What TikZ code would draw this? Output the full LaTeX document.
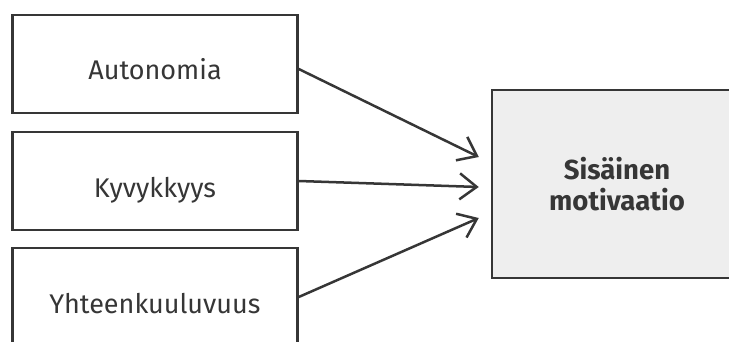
\documentclass[tikz,border=0pt]{standalone}
\usepackage{fontspec}
\setmainfont{Fira Sans}
\usetikzlibrary{arrows.meta,calc}
\definecolor{ink}{HTML}{363636}
\definecolor{boxfill}{HTML}{EEEEEE}
\tikzset{
  factor/.style={draw=ink, line width=2.5pt, minimum width=285pt, minimum height=98pt,
    inner sep=0pt, text height=33pt, text depth=1pt, font=\fontsize{27}{30}\selectfont, text=ink},
  result/.style={draw=ink, line width=2.5pt, fill=boxfill, minimum width=250pt, minimum height=188pt,
    inner sep=0pt, align=center, font=\fontsize{27.5}{31}\selectfont\bfseries, text=ink},
  link/.style={draw=ink, line width=2.5pt, -{Straight Barb[length=17pt,width=26pt,line width=2.5pt]}}
}
\begin{document}
\begin{tikzpicture}[x=1pt,y=-1pt]
\useasboundingbox (0,0) rectangle (729,342);
\clip (0,0) rectangle (729,342);
\node[factor] (a) at (155,64) {Autonomia};
\node[factor] (k) at (155,181) {Kyvykkyys};
\node[factor] (y) at (155,297) {Yhteenkuuluvuus};
\node[result] (m) at (617,184) {Sisäinen\\motivaatio};
\coordinate (ta) at ($(m.west)+(-12,-27)$);
\coordinate (tk) at ($(m.west)+(-12,3)$);
\coordinate (ty) at ($(m.west)+(-12,34)$);
\draw[link] ($(a.east)+(0,5)$) -- (ta);
\draw[link] (k.east) -- (tk);
\draw[link] (y.east) -- (ty);
\end{tikzpicture}
\end{document}
